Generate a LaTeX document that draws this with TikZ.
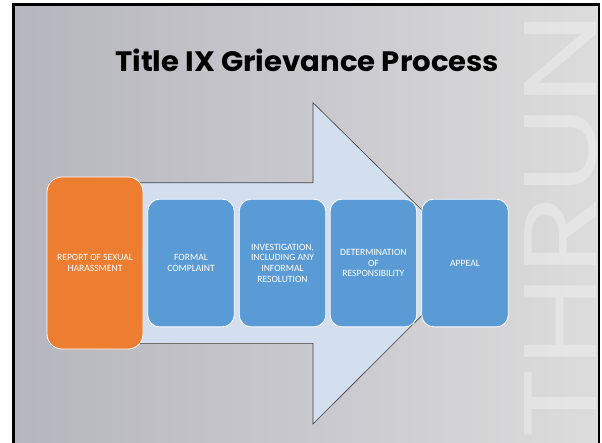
\documentclass[tikz,border=0pt]{standalone}
\usepackage{fontspec}
\setmainfont{Carlito}
\newfontfamily\titlefont{Poppins}
\usepackage{graphicx}
\definecolor{bgL}{HTML}{B5B5BD}
\definecolor{bgR}{HTML}{DCDCDC}
\definecolor{arrowfill}{HTML}{D3DEEF}
\definecolor{arrowline}{HTML}{404040}
\definecolor{orangebox}{HTML}{ED7D31}
\definecolor{bluebox}{HTML}{5B9BD5}
\tikzset{
  stepbox/.style={rounded corners=12pt, draw=white, line width=0.8pt, text=white,
    align=center, font=\fontsize{9.6}{10.7}\selectfont, inner sep=0pt,
    minimum width=86.5pt, minimum height=127.7pt, fill=bluebox},
  firstbox/.style={stepbox, fill=orangebox, rounded corners=15pt,
    minimum width=96pt, minimum height=172pt},
  bigarrow/.style={fill=arrowfill, draw=arrowline, line width=0.6pt, line join=miter},
  frame/.style={draw=black, line width=2.5pt},
  watermark/.style={text=white, opacity=0.3, inner sep=0pt}
}
\begin{document}
\begin{tikzpicture}[x=1pt,y=-1pt]
\useasboundingbox (0,0) rectangle (602,442);
\fill[white] (0,0) rectangle (602,442);
\shade[left color=bgL, right color=bgR] (13.3,4.3) rectangle (599,442);
\node[watermark, rotate=90, anchor=north west] (wm) at (524,440)
  {\resizebox{428pt}{72pt}{\titlefont THRUN}};
\draw[frame] (13.3,460) -- (13.3,4.3) -- (599,4.3) -- (599,460);
\node[anchor=base west, inner sep=0pt] (title) at (115,71.7)
  {\resizebox{384pt}{22.5pt}{\titlefont\bfseries Title IX Grievance Process}};
\draw[bigarrow] (50,182.7) -- (313,182.7) -- (313,102.7) -- (475,262.5)
  -- (313,424) -- (313,343.3) -- (50,343.3) -- cycle;
\node[firstbox] (report) at (95,263) {REPORT OF SEXUAL\\HARASSMENT};
\node[stepbox] (formal) at (191,263) {FORMAL\\COMPLAINT};
\node[stepbox] (invest) at (282.5,263) {INVESTIGATION,\\INCLUDING ANY\\INFORMAL\\RESOLUTION};
\node[stepbox] (determ) at (373.4,263) {DETERMINATION\\OF\\RESPONSIBILITY};
\node[stepbox] (appeal) at (465,263) {APPEAL};
\end{tikzpicture}
\end{document}
